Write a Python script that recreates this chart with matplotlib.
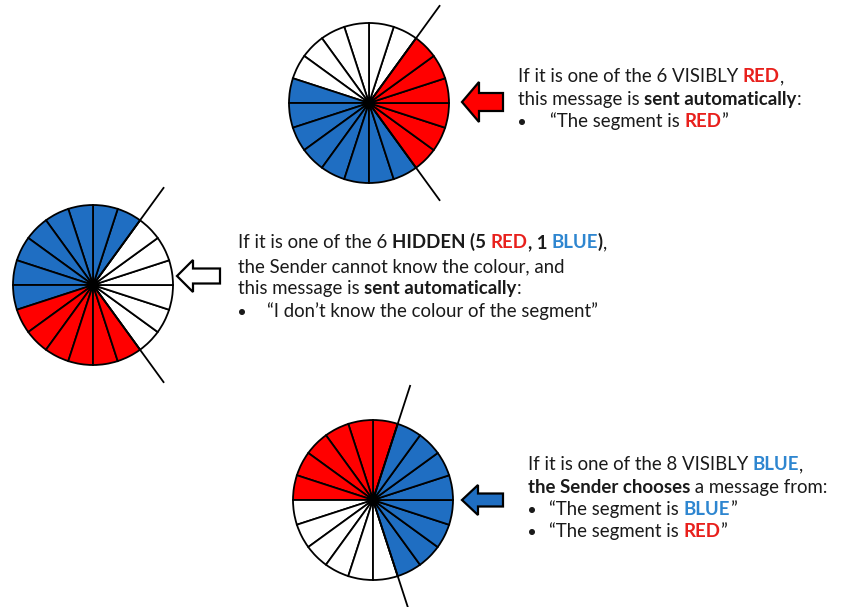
import matplotlib
matplotlib.use("Agg")
import matplotlib.pyplot as plt
import numpy as np
from matplotlib.patches import FancyArrow, Circle

W, H = 842, 607
RED = "#FF0000"
BLUE = "#1F6EC2"
WHITE = "#FFFFFF"
TRED = "#E8201C"
TBLUE = "#2E86D0"
TXT = "#1A1A1A"

# Wheel data: segment counts (each segment = 1/20 of the wheel)
n_segments = 20
top_counts = [6, 8, 6]          # white, blue, red (starting at divider, counter-clockwise)
top_colors = [WHITE, BLUE, RED]
mid_counts = [6, 8, 6]          # white, blue, red
mid_colors = [WHITE, BLUE, RED]
bot_counts = [6, 6, 8]          # red, white, blue
bot_colors = [RED, WHITE, BLUE]

fig = plt.figure(figsize=(W / 100, H / 100), dpi=100)
ax = fig.add_axes([0, 0, 1, 1])


def Y(y):
    return H - y


def wheel(cx, cy, r, counts, colors, start, divider_angles):
    segcols = []
    for c, col in zip(counts, colors):
        segcols += [col] * c
    ax.pie([1] * n_segments, colors=segcols, startangle=start, counterclock=True,
           center=(cx, Y(cy)), radius=r, frame=True,
           wedgeprops=dict(edgecolor="black", linewidth=1.3))
    for a in divider_angles:
        t = np.deg2rad(a)
        ax.plot([cx, cx + 1.5 * r * np.cos(t)], [Y(cy), Y(cy) + 1.5 * r * np.sin(t)],
                color="black", lw=1.3, zorder=3)
    ax.add_patch(Circle((cx, Y(cy)), 4, color="black", zorder=4))


wheel(369, 103, 80, top_counts, top_colors, 54, [54, -54])
wheel(93, 285, 80, mid_counts, mid_colors, -54, [54, -54])
wheel(373, 500, 80, bot_counts, bot_colors, 72, [72, -72])


def arrow(tip, tail, cy, head_half, shaft_half, head_len, fc):
    ax.add_patch(FancyArrow(tail, Y(cy), tip - tail, 0, width=2 * shaft_half,
                            head_width=2 * head_half, head_length=head_len,
                            length_includes_head=True, fc=fc, ec="black", lw=1.6,
                            zorder=5))


arrow(462, 503, 102, 20, 9, 17, RED)
arrow(177, 220, 276, 16, 7.5, 16, WHITE)
arrow(462, 503, 500, 15, 6.5, 16, BLUE)

FS = 13.4
FAM = ["Lato", "DejaVu Sans"]


def rich(x, y, pieces):
    t = None
    for s, col, bold in pieces:
        kw = dict(color=col, fontsize=FS, family=FAM,
                  fontweight="bold" if bold else "normal", zorder=6)
        if t is None:
            t = ax.text(x, Y(y), s, va="baseline", ha="left", **kw)
        else:
            t = ax.annotate(s, xycoords=t, xy=(1, 0), va="bottom", ha="left", **kw)


def bullet(x, y):
    ax.add_patch(Circle((x, Y(y - 5)), 2.3, color=TXT, zorder=6))


# Block 1
rich(518, 82, [("If it is one of the 6 VISIBLY ", TXT, False), ("RED", TRED, True), (",", TXT, False)])
rich(518, 105, [("this message is ", TXT, False), ("sent automatically", TXT, True), (":", TXT, False)])
bullet(522, 127)
rich(550, 127, [("\u201cThe segment is ", TXT, False), ("RED", TRED, True), ("\u201d", TXT, False)])

# Block 2
rich(238, 248, [("If it is one of the 6 ", TXT, False), ("HIDDEN (5 ", TXT, True), ("RED", TRED, True),
                (", 1 ", TXT, True), ("BLUE", TBLUE, True), (")", TXT, True), (",", TXT, False)])
rich(238, 272, [("the Sender cannot know the colour, and", TXT, False)])
rich(238, 294, [("this message is ", TXT, False), ("sent automatically", TXT, True), (":", TXT, False)])
bullet(242, 317)
rich(267, 317, [("\u201cI don\u2019t know the colour of the segment\u201d", TXT, False)])

# Block 3
rich(528, 470, [("If it is one of the 8 VISIBLY ", TXT, False), ("BLUE", TBLUE, True), (",", TXT, False)])
rich(528, 493, [("the Sender chooses", TXT, True), (" a message from:", TXT, False)])
bullet(532, 515)
rich(549, 515, [("\u201cThe segment is ", TXT, False), ("BLUE", TBLUE, True), ("\u201d", TXT, False)])
bullet(532, 537)
rich(549, 537, [("\u201cThe segment is ", TXT, False), ("RED", TRED, True), ("\u201d", TXT, False)])

ax.set_xlim(0, W)
ax.set_ylim(0, H)
ax.set_aspect("auto")
ax.axis("off")
fig.savefig("out.png", dpi=100, facecolor="white")
